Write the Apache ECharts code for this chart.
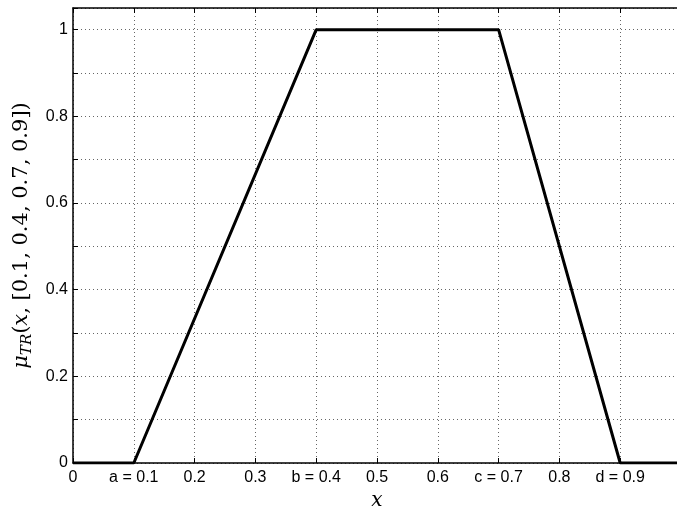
<!DOCTYPE html>
<html><head><meta charset="utf-8">
<script src="https://cdn.jsdelivr.net/npm/echarts@6/dist/echarts.min.js"></script>
<style>html,body{margin:0;padding:0;background:#fff}#c{width:677px;height:507px}</style>
</head><body><div id="c"></div>
<script>
const xValues = [0, 0.1, 0.4, 0.7, 0.9, 1.0];
const muValues = [0, 0, 1, 1, 0, 0];
const xTickValues = [0, 0.1, 0.2, 0.3, 0.4, 0.5, 0.6, 0.7, 0.8, 0.9, 1.0];
const xTickLabels = ['0', 'a = 0.1', '0.2', '0.3', 'b = 0.4', '0.5', '0.6', 'c = 0.7', '0.8', 'd = 0.9', ''];
const yTickLabels = ['0', '0.2', '0.4', '0.6', '0.8', '1'];

const chart = echarts.init(document.getElementById('c'), null, {renderer: 'canvas'});
const gridLine = {show: true, lineStyle: {color: '#000', width: 1, type: [1, 3], opacity: 0.6}};
const axisLineStyle = {show: true, onZero: false, lineStyle: {color: '#000', width: 1.5}};
function xFmt(v) {
  for (let i = 0; i < xTickValues.length; i++) if (Math.abs(xTickValues[i] - v) < 1e-6) return xTickLabels[i];
  return '';
}
function yFmt(v) {
  const r = Math.round(v * 10);
  if (Math.abs(v * 10 - r) > 1e-6 || r % 2) return '';
  return yTickLabels[r / 2] || '';
}
chart.setOption({
  animation: false,
  grid: {left: 73, top: 8, width: 608, height: 455, containLabel: false, outerBoundsMode: 'none'},
  xAxis: [{
    type: 'value', min: 0, max: 1, interval: 0.1, position: 'bottom',
    axisLine: axisLineStyle,
    axisTick: {show: true, inside: true, length: 5, lineStyle: {color: '#000'}},
    axisLabel: {formatter: xFmt, color: '#000', fontFamily: 'Liberation Sans', fontSize: 16, margin: 7},
    splitLine: gridLine,
    name: 'x', nameLocation: 'middle', nameGap: 26,
    nameTextStyle: {fontFamily: 'DejaVu Serif', fontStyle: 'italic', fontSize: 20, color: '#000'}
  }, {
    type: 'value', min: 0, max: 1, interval: 0.1, position: 'top',
    axisLine: axisLineStyle,
    axisTick: {show: true, inside: true, length: 5, lineStyle: {color: '#000'}},
    axisLabel: {show: false}, splitLine: {show: false}
  }],
  yAxis: [{
    type: 'value', min: 0, max: 1.05, interval: 0.1, position: 'left',
    axisLine: axisLineStyle,
    axisTick: {show: true, inside: true, length: 5, lineStyle: {color: '#000'}},
    axisLabel: {formatter: yFmt, color: '#000', fontFamily: 'Liberation Sans', fontSize: 16, margin: 5},
    splitLine: gridLine,
    name: '{mu|μ}{sub|TR}{n|(}{it|x}{n|, [0.1, 0.4, 0.7, 0.9])}',
    nameLocation: 'middle', nameGap: 34, nameRotate: 90,
    nameTextStyle: {
      color: '#000',
      rich: {
        mu: {fontFamily: 'DejaVu Serif', fontStyle: 'italic', fontSize: 21, color: '#000'},
        sub: {fontFamily: 'DejaVu Serif', fontStyle: 'italic', fontSize: 15, color: '#000', verticalAlign: 'bottom', padding: [12, 0, 0, 0]},
        it: {fontFamily: 'DejaVu Serif', fontStyle: 'italic', fontSize: 21, color: '#000'},
        n: {fontFamily: 'DejaVu Serif', fontSize: 21, color: '#000'}
      }
    }
  }, {
    type: 'value', min: 0, max: 1.05, interval: 0.1, position: 'right',
    axisLine: axisLineStyle, axisTick: {show: false}, axisLabel: {show: false}, splitLine: {show: false}
  }],
  series: [{
    type: 'line', xAxisIndex: 0, yAxisIndex: 0,
    data: xValues.map((x, i) => [x, muValues[i]]),
    symbol: 'none', lineStyle: {color: '#000', width: 3}, z: 5
  }]
});
</script></body></html>
